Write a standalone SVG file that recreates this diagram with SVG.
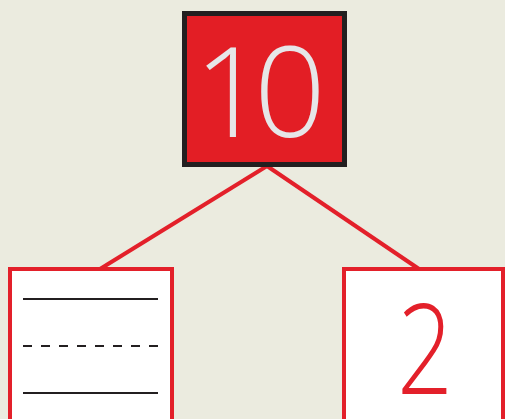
<svg xmlns="http://www.w3.org/2000/svg" width="505" height="419" viewBox="0 0 505 419">
<style>
.box{fill:#ffffff;stroke:#e3202a;stroke-width:4}
.conn{stroke:#e3202a;stroke-width:4;fill:none}
.rule{stroke:#231f20;stroke-width:2.2}
.num{font-family:"Open Sans","Liberation Sans",sans-serif;font-weight:300;text-anchor:middle}
</style>
<rect width="505" height="419" fill="#ebebdf"/>
<g id="connectors">
<line class="conn" x1="267" y1="166" x2="100" y2="269"/>
<line class="conn" x1="267" y1="166" x2="419" y2="269"/>
</g>
<g id="top">
<rect x="184.5" y="13.5" width="160" height="151" fill="#e31e25" stroke="#231f20" stroke-width="5"/>
<text class="num" x="254" y="137" font-size="126" letter-spacing="-12" fill="#e6e6e8">10</text>
</g>
<g id="left">
<rect class="box" x="10" y="269" width="162" height="160"/>
<line class="rule" x1="23" y1="299" x2="158" y2="299"/>
<line class="rule" x1="23" y1="346" x2="158" y2="346" stroke-dasharray="9 9"/>
<line class="rule" x1="23" y1="393" x2="158" y2="393"/>
</g>
<g id="right">
<rect class="box" x="344" y="269" width="159" height="160"/>
<text class="num" transform="translate(425 394) scale(0.78 1)" x="0" y="0" font-size="126" font-weight="400" fill="#e3202a">2</text>
</g>
</svg>
